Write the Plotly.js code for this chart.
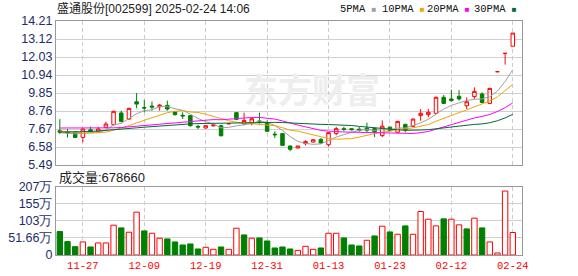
<!DOCTYPE html>
<html><head><meta charset="utf-8">
<script src="https://cdn.plot.ly/plotly-3.0.1.min.js"></script>
<style>html,body{margin:0;padding:0;background:#fff}#chart{width:578px;height:276px}</style>
</head><body><div id="chart"></div>
<script>
const dates = ['11-22','11-25','11-26','11-27','11-28','11-29','12-02','12-03','12-04','12-05',
 '12-06','12-09','12-10','12-11','12-12','12-13','12-16','12-17','12-18','12-19',
 '12-20','12-23','12-24','12-25','12-26','12-27','12-30','12-31','01-02','01-03',
 '01-06','01-07','01-08','01-09','01-10','01-13','01-14','01-15','01-16','01-17',
 '01-20','01-21','01-22','01-23','01-24','01-27','02-05','02-06','02-07','02-10',
 '02-11','02-12','02-13','02-14','02-17','02-18','02-19','02-20','02-21','02-24'];
const open = [7.57,7.51,7.47,7.16,7.62,7.51,7.77,7.93,8.64,8.27,
 9.32,8.97,9.06,9.02,9.10,8.72,8.50,8.48,7.83,7.73,
 7.86,7.87,7.99,8.66,7.99,8.03,8.16,8.05,7.36,7.39,
 6.64,6.52,6.78,6.88,7.04,6.72,7.39,7.69,7.69,7.66,
 7.72,7.70,7.27,7.78,7.47,7.95,7.83,8.48,8.54,8.62,
 9.59,9.49,9.65,9.08,9.63,9.79,9.22,11.14,12.25,12.68];
const high = [8.27,7.67,7.53,7.71,7.81,7.81,8.11,8.78,8.78,8.96,
 9.85,9.43,9.34,9.18,9.39,8.74,8.68,8.50,7.93,7.91,
 7.93,7.93,7.99,8.70,8.66,8.36,8.66,8.19,7.53,7.40,
 6.66,6.66,6.98,7.04,7.12,7.47,7.79,7.81,7.72,7.80,
 8.05,7.77,8.19,7.82,8.17,7.99,8.31,8.88,8.88,9.63,
 9.73,10.05,10.03,9.59,10.19,9.89,10.17,11.14,12.25,13.48];
const low = [7.37,7.16,7.12,6.86,7.47,7.43,7.71,7.89,8.07,8.23,
 8.92,8.68,8.78,8.78,8.78,8.48,8.27,7.81,7.67,7.71,
 7.83,7.22,7.99,8.20,7.89,7.89,7.99,7.49,7.12,6.66,
 6.32,6.50,6.68,6.86,6.78,6.60,7.29,7.55,7.58,7.52,
 7.49,7.18,7.18,7.53,7.43,7.47,7.79,8.17,8.38,8.58,
 9.18,9.32,9.39,8.88,9.49,9.24,9.18,11.14,11.57,12.68];
const close = [7.47,7.43,7.16,7.67,7.54,7.67,7.97,8.74,8.13,8.92,
 9.18,8.94,9.00,9.12,8.88,8.54,8.46,7.87,7.79,7.87,
 7.91,7.26,7.99,8.25,8.19,8.29,8.07,7.53,7.32,6.68,
 6.44,6.64,6.92,7.02,6.82,7.45,7.69,7.65,7.63,7.58,
 7.60,7.50,7.84,7.58,8.13,7.61,8.27,8.62,8.68,9.59,
 9.22,9.39,9.49,9.32,9.95,9.28,10.13,11.14,12.25,13.48];
const volume = [70.7,40.4,25.2,39.4,24.2,36.4,36.4,89.9,81.8,68.7,
 129.3,72.7,65.6,50.5,48.5,39.4,30.3,33.3,18.2,23.2,
 17.2,24.2,17.2,80.8,60.6,50.5,51.5,42.4,21.2,24.2,
 18.2,14.1,26.3,17.2,21.2,65.6,65.6,51.5,30.3,27.3,
 44.4,57.5,86.8,69.6,62.6,87.8,62.6,131.3,108.0,87.9,
 109.0,108.0,90.9,78.8,111.1,81.8,39.4,6.1,192.9,67.87];
const ma5 = [7.45,7.42,7.38,7.40,7.45,7.49,7.60,7.92,8.01,8.29,
 8.59,8.78,8.83,9.03,9.02,8.90,8.80,8.57,8.31,8.11,
 7.98,7.74,7.77,7.86,7.92,8.00,8.16,8.07,7.88,7.58,
 7.21,6.92,6.80,6.74,6.77,6.97,7.18,7.33,7.45,7.60,
 7.63,7.59,7.63,7.62,7.73,7.73,7.89,8.04,8.26,8.55,
 8.88,9.10,9.27,9.40,9.47,9.49,9.63,9.96,10.55,11.26];
const ma10 = [7.55,7.50,7.45,7.43,7.42,7.43,7.48,7.60,7.73,7.87,
 8.04,8.19,8.38,8.52,8.66,8.74,8.79,8.70,8.67,8.57,
 8.44,8.27,8.17,8.08,8.01,7.99,7.95,7.92,7.87,7.75,
 7.60,7.54,7.43,7.31,7.17,7.09,7.05,7.06,7.09,7.18,
 7.30,7.39,7.48,7.53,7.67,7.68,7.74,7.84,7.94,8.14,
 8.30,8.49,8.66,8.83,9.01,9.18,9.37,9.62,9.98,10.37];
const ma20 = [7.73,7.73,7.72,7.70,7.70,7.70,7.71,7.74,7.76,7.80,
 7.84,7.88,7.92,7.97,8.02,8.06,8.08,8.10,8.16,8.22,
 8.24,8.23,8.27,8.30,8.33,8.37,8.37,8.31,8.27,8.16,
 8.02,7.91,7.80,7.70,7.59,7.54,7.50,7.49,7.48,7.47,
 7.45,7.46,7.46,7.42,7.42,7.39,7.40,7.45,7.52,7.66,
 7.80,7.94,8.07,8.18,8.34,8.43,8.55,8.73,8.96,9.25];
const ma30 = [7.48,7.48,7.48,7.50,7.52,7.55,7.58,7.62,7.66,7.70,
 7.74,7.78,7.82,7.86,7.90,7.93,7.96,7.98,8.00,8.01,
 8.02,8.03,8.04,8.05,8.06,8.07,8.07,8.07,8.07,8.06,
 8.03,8.00,7.99,7.97,7.95,7.94,7.93,7.89,7.88,7.83,
 7.78,7.73,7.69,7.64,7.62,7.59,7.58,7.61,7.63,7.69,
 7.74,7.81,7.86,7.89,7.95,7.98,8.05,8.17,8.34,8.56];
const tickDates = ['11-27','12-09','12-19','12-31','01-13','01-23','02-12','02-24'];
const priceTicks = [5.49,6.58,7.67,8.76,9.85,10.94,12.03,13.12,14.21];
const volTickVals = [0,51.66,103.32,154.98,206.64];
const volTickText = ['0','51.66万','103万','155万','207万'];
const maNames = ['5PMA','10PMA','20PMA','30PMA'];
const maColors = ['#a0a0a0','#f0a30a','#ff00ff','#006b2f'];
const titleText = '盛通股份[002599] 2025-02-24 14:06';
const volLabel = '成交量:678660';
const watermark = '东方财富';

const RED = '#ff0000', GREEN = '#008000';
const idx = dates.map((d,i)=>i);
const redIdx = idx.filter(i => close[i] >= open[i]);
const greenIdx = idx.filter(i => close[i] < open[i]);
const volUp = idx.map(i => i === 0 ? close[0] >= open[0] : close[i] >= close[i-1]);
const pick = (arr, ids) => ids.map(i => arr[i]);

const traces = [];
const vr = idx.filter(i => volUp[i]), vg = idx.filter(i => !volUp[i]);
traces.push({type:'bar', x:pick(dates,vr), y:pick(volume,vr), xaxis:'x', yaxis:'y', width:0.7,
  marker:{color:'#ffffff', line:{color:RED, width:1}}, hoverinfo:'skip'});
traces.push({type:'bar', x:pick(dates,vg), y:pick(volume,vg), xaxis:'x', yaxis:'y', width:0.7,
  marker:{color:GREEN, line:{color:GREEN, width:1}}, hoverinfo:'skip'});
function candle(ids, lineColor, fill){
  return {type:'candlestick', x:pick(dates,ids), open:pick(open,ids), high:pick(high,ids),
    low:pick(low,ids), close:pick(close,ids), xaxis:'x2', yaxis:'y2', whiskerwidth:0,
    increasing:{line:{color:lineColor, width:1}, fillcolor:fill},
    decreasing:{line:{color:lineColor, width:1}, fillcolor:fill}, hoverinfo:'skip'};
}
traces.push(candle(redIdx, RED, '#ffffff'));
traces.push(candle(greenIdx, GREEN, GREEN));
[ma5,ma10,ma20,ma30].forEach((m,k)=>{
  traces.push({type:'scatter', mode:'lines', x:dates, y:m, xaxis:'x2', yaxis:'y2',
    line:{color:maColors[k], width:1}, name:maNames[k], hoverinfo:'skip'});
});

const L=56, R=56, T=21, B=21, W=578, H=276;
const PW = W-L-R, PH = H-T-B;
const px = v => (v-L)/PW, py = v => (H-B-v)/PH;

const xCommon = {type:'category', categoryorder:'array', categoryarray:dates, range:[-0.5,60.2],
  tickmode:'array', tickvals:tickDates, ticktext:tickDates, showgrid:true, gridcolor:'#cccccc',
  griddash:'4px,3px', gridwidth:1, showline:true, mirror:true, linecolor:'#999999', linewidth:1,
  ticks:'', zeroline:false, rangeslider:{visible:false}, fixedrange:true};
const tickFontY = {family:'Liberation Sans, Arial, sans-serif', size:12.5, color:'#1c2e6a'};

const annotations = [
  {xref:'paper', yref:'paper', x:px(57), y:py(177), xanchor:'left', yanchor:'middle', showarrow:false,
   text:volLabel, font:{family:'Liberation Sans, Noto Sans CJK SC, sans-serif', size:13, color:'#222'}},
  {xref:'paper', yref:'paper', x:px(312), y:py(88), xanchor:'center', yanchor:'middle', showarrow:false,
   text:'<b>'+watermark+'</b>', font:{family:'Noto Sans CJK SC, sans-serif', size:34, color:'#eeeeee'}}
];
const legX = [338, 380, 425, 472];
maNames.forEach((n,k)=>{
  annotations.push({xref:'paper', yref:'paper', x:px(legX[k]), y:py(9), xanchor:'left', yanchor:'middle',
    showarrow:false, text:n+' <span style="color:'+maColors[k]+';font-size:8px">■</span>',
    font:{family:'Liberation Mono, monospace', size:10.5, color:'#111'}});
});

const layout = {
  width:W, height:H, margin:{l:L, r:R, t:T, b:B, pad:0},
  paper_bgcolor:'#ffffff', plot_bgcolor:'#ffffff', showlegend:false,
  barmode:'overlay', boxgap:0.35,
  title:{text:titleText, xref:'container', yref:'container', x:57/W, xanchor:'left', y:1-9/H, yanchor:'middle',
    font:{family:'Liberation Sans, Noto Sans CJK SC, sans-serif', size:12, color:'#222'}},
  xaxis:Object.assign({}, xCommon, {domain:[0,1], anchor:'y',
    tickfont:{family:'Liberation Mono, monospace', size:10.5, color:'#ff0000'}}),
  xaxis2:Object.assign({}, xCommon, {domain:[0,1], anchor:'y2', matches:'x', showticklabels:false}),
  yaxis:{domain:[0, py(186.5)], range:[0,206.64], tickmode:'array', tickvals:volTickVals, ticktext:volTickText,
    showgrid:true, gridcolor:'#d0d0d0', showline:true, mirror:true, linecolor:'#999999', ticks:'',
    zeroline:false, tickfont:tickFontY, fixedrange:true},
  yaxis2:{domain:[py(165), 1], range:[5.49,14.21], tickmode:'array', tickvals:priceTicks,
    ticktext:priceTicks.map(v=>v.toFixed(2)), showgrid:true, gridcolor:'#d0d0d0', showline:true, mirror:true,
    linecolor:'#999999', ticks:'', zeroline:false, tickfont:tickFontY, fixedrange:true},
  annotations:annotations
};
Plotly.newPlot('chart', traces, layout, {staticPlot:true, displayModeBar:false});
</script></body></html>
